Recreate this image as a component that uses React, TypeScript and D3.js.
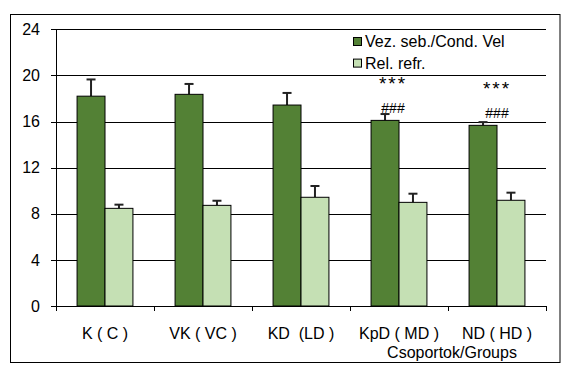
import React from "react";
import * as d3 from "d3";

const categories = ["K ( C )", "VK ( VC )", "KD  (LD )", "KpD ( MD )", "ND ( HD )"];
const seriesNames = ["Vez. seb./Cond. Vel", "Rel. refr."];
const condVel = [18.2, 18.36, 17.43, 16.1, 15.67];
const condVelErr = [1.45, 0.9, 1.05, 0.55, 0.28];
const relRefr = [8.47, 8.73, 9.43, 8.99, 9.17];
const relRefrErr = [0.32, 0.4, 0.98, 0.75, 0.66];
const yTicks = [0, 4, 8, 12, 16, 20, 24];
const starLabels = ["", "", "", "***", "***"];
const hashLabels = ["", "", "", "###", "###"];
const xTitle = "Csoportok/Groups";

const colors = ["#538135", "#c5e0b4"];

export default function App() {
  const W = 571, H = 379;
  const left = 56, right = 546, top = 29.3, bottom = 306;
  const x = d3.scaleBand().domain(categories).range([left, right]).paddingInner(0.43).paddingOuter(0.215);
  const y = d3.scaleLinear().domain([0, 24]).range([bottom, top]);
  const sub = d3.scaleBand().domain(["0", "1"]).range([0, x.bandwidth()]);
  const series = [
    { vals: condVel, errs: condVelErr },
    { vals: relRefr, errs: relRefrErr },
  ];
  const font = "Arial, 'Liberation Sans', sans-serif";
  const boundaries = d3.range(categories.length + 1).map((i) => left + i * ((right - left) / categories.length));
  const annotDx = [0, 0, 0, -6, 0];
  const starY = [0, 0, 0, 90, 95];
  const hashY = [0, 0, 0, 113, 118];
  return (
    <svg width={W} height={H} style={{ position: "absolute", left: 0, top: 0, fontFamily: font }}>
      <rect x={0} y={0} width={W} height={H} fill="#fff" />
      <rect x={10.5} y={14.5} width={549.5} height={348} fill="none" stroke="#000" strokeWidth={1} />
      {yTicks.map((t) => (
        <g key={t}>
          {t > 0 && <line x1={left} x2={right} y1={Math.round(y(t)) + 0.5} y2={Math.round(y(t)) + 0.5} stroke="#000" />}
          <line x1={left - 5} x2={left} y1={Math.round(y(t)) + 0.5} y2={Math.round(y(t)) + 0.5} stroke="#000" />
          <text x={40} y={y(t) + 5.7} textAnchor="end" fontSize={16} fill="#000">{t}</text>
        </g>
      ))}
      {categories.map((c, i) =>
        series.map((s, j) => {
          const bx = (x(c) as number) + (sub(String(j)) as number);
          const bw = sub.bandwidth();
          const yv = y(s.vals[i]);
          const ye = y(s.vals[i] + s.errs[i]);
          const cx = bx + bw / 2;
          return (
            <g key={c + j}>
              <line x1={cx} x2={cx} y1={ye} y2={yv} stroke="#222" strokeWidth={2} />
              <line x1={cx - 4.5} x2={cx + 4.5} y1={ye} y2={ye} stroke="#222" strokeWidth={2} />
              <rect x={bx} y={yv} width={bw} height={bottom - yv} fill={colors[j]} stroke="#000" strokeWidth={1} />
            </g>
          );
        })
      )}
      <line x1={left + 0.5} x2={left + 0.5} y1={top} y2={bottom} stroke="#000" />
      <line x1={left} x2={right} y1={bottom + 0.5} y2={bottom + 0.5} stroke="#000" />
      {boundaries.map((b, i) => (
        <line key={i} x1={b + 0.5} x2={b + 0.5} y1={bottom} y2={bottom + 5} stroke="#000" />
      ))}
      {categories.map((c) => (
        <text key={c} x={(x(c) as number) + x.bandwidth() / 2} y={339} textAnchor="middle" fontSize={16} fill="#000" style={{ whiteSpace: "pre" }}>{c}</text>
      ))}
      <text x={452} y={358} textAnchor="middle" fontSize={16} fill="#000">{xTitle}</text>
      {categories.map((c, i) => {
        const cx = (x(c) as number) + x.bandwidth() / 2 + annotDx[i];
        return (
          <g key={"a" + i}>
            {starLabels[i] && (
              <text x={cx} y={starY[i]} textAnchor="middle" fontSize={19} letterSpacing={2} fill="#000">{starLabels[i]}</text>
            )}
            {hashLabels[i] && (
              <text x={cx} y={hashY[i]} textAnchor="middle" fontSize={14} fill="#000">{hashLabels[i]}</text>
            )}
          </g>
        );
      })}
      {seriesNames.map((n, j) => (
        <g key={n}>
          <rect x={353.5} y={37.5 + j * 21.6} width={8} height={8} fill={colors[j]} stroke="#000" strokeWidth={1} />
          <text x={365} y={47.4 + j * 21.6} fontSize={16} fill="#000">{n}</text>
        </g>
      ))}
    </svg>
  );
}
